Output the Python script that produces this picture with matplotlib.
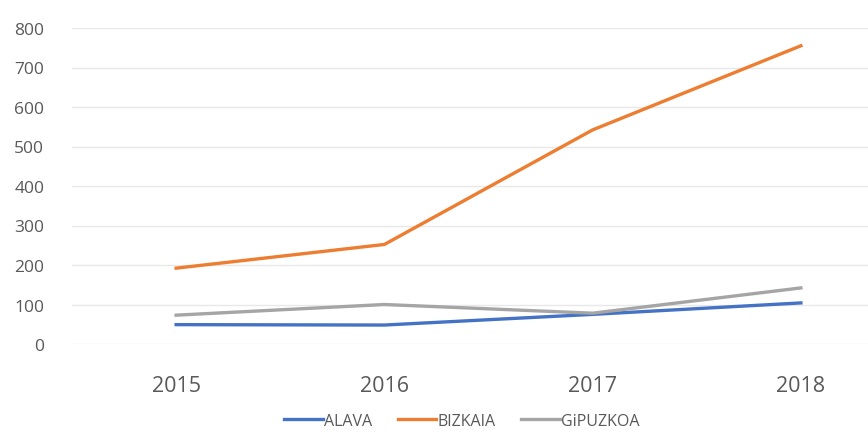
import matplotlib.pyplot as plt

# data
years = ['2015', '2016', '2017', '2018']
alava = [49, 48, 75, 104]
bizkaia = [192, 252, 542, 755]
gipuzkoa = [73, 100, 78, 142]
yticks = [0, 100, 200, 300, 400, 500, 600, 700, 800]

plt.rcParams['font.family'] = ['Open Sans', 'DejaVu Sans']

fig = plt.figure(figsize=(8.68, 4.35), dpi=100)
ax = fig.add_axes([72 / 868, 1 - 345 / 435, 833 / 868, 316 / 435])

x = range(len(years))
ax.plot(x, alava, color='#4472C4', lw=2.4, label='ALAVA')
ax.plot(x, bizkaia, color='#ED7D31', lw=2.4, label='BIZKAIA')
ax.plot(x, gipuzkoa, color='#A5A5A5', lw=2.4, label='GiPUZKOA')

ax.set_xlim(-0.5, 3.5)
ax.set_ylim(0, 800)
ax.set_xticks(list(x))
ax.set_xticklabels(years)
ax.set_yticks(yticks)
ax.grid(axis='y', color='#E8E8E8', lw=1)
ax.set_axisbelow(True)
for s in ax.spines.values():
    s.set_visible(False)
ax.tick_params(length=0, colors='#595959')
ax.tick_params(axis='y', labelsize=12.5, pad=20)
ax.tick_params(axis='x', labelsize=15.5, pad=22)

fig.legend(loc='center', bbox_to_anchor=(462 / 868, 1 - 422 / 435), ncol=3,
           frameon=False, fontsize=11.5, labelcolor='#595959', handlelength=2.4,
           handletextpad=0.1, columnspacing=1.6)

plt.savefig('out.png', dpi=100)
